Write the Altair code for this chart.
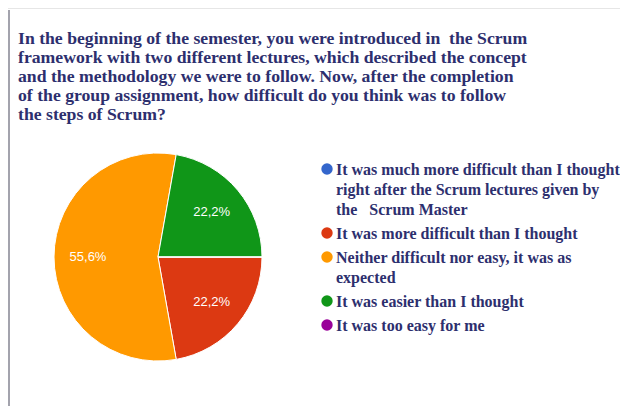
import math
import altair as alt
import pandas as pd

title_lines = [
    "In the beginning of the semester, you were introduced in\u00a0 the Scrum",
    "framework with two different lectures, which described the concept",
    "and the methodology we were to follow. Now, after the completion",
    "of the group assignment, how difficult do you think was to follow",
    "the steps of Scrum?",
]

categories = [
    "It was much more difficult than I thought|right after the Scrum lectures given by|the \u00a0\u00a0Scrum Master",
    "It was more difficult than I thought",
    "Neither difficult nor easy, it was as|expected",
    "It was easier than I thought",
    "It was too easy for me",
]
percents = [0.0, 22.2, 55.6, 22.2, 0.0]
colors = ["#3366cc", "#dc3912", "#ff9900", "#109618", "#990099"]

df = pd.DataFrame({"answer": categories, "pct": percents, "idx": list(range(len(categories)))})

NAVY = "#2d2f6e"

base = alt.Chart(df).encode(
    theta=alt.Theta("pct:Q", stack=True,
                    scale=alt.Scale(range=[math.pi / 2, math.pi / 2 + 2 * math.pi])),
    order=alt.Order("idx:Q", sort="ascending"),
)

pie = base.mark_arc(radius=104, stroke="white", strokeWidth=1).encode(
    color=alt.Color(
        "answer:N",
        sort=categories,
        scale=alt.Scale(domain=categories, range=colors),
        legend=alt.Legend(
            title=None,
            orient="none",
            legendX=265,
            legendY=8,
            labelExpr="split(datum.label, '|')",
            labelFont="Liberation Serif",
            labelFontWeight="bold",
            labelFontSize=16,
            labelColor=NAVY,
            labelLimit=400,
            labelBaseline="top",
            labelOffset=1,
            symbolType="circle",
            symbolSize=130,
            symbolStrokeWidth=0,
            rowPadding=7,
        ),
    )
)

labels = base.transform_filter("datum.pct > 0").transform_calculate(
    lab="replace(format(datum.pct, '.1f'), '.', ',') + '%'"
).mark_text(radius=70, color="white", font="Liberation Sans", fontSize=13).encode(
    text="lab:N"
)

frame_left = alt.Chart(df).mark_rule(color="#a3a3ad", strokeWidth=2).encode(
    x=alt.value(-45), y=alt.value(-143), y2=alt.value(260)
)
frame_top = alt.Chart(df).mark_rule(color="#e6e6e6", strokeWidth=1).encode(
    x=alt.value(-46), x2=alt.value(566), y=alt.value(-144.5)
)

chart = alt.layer(frame_left, frame_top, pie, labels).properties(
    width=208,
    height=208,
    autosize=alt.AutoSizeParams(type="none"),
    padding={"left": 46, "top": 145, "right": 358, "bottom": 45},
    title=alt.TitleParams(
        text=title_lines,
        anchor="start",
        frame="group",
        dx=-36,
        offset=-116,
        font="Liberation Serif",
        fontWeight="bold",
        fontSize=17.7,
        lineHeight=19,
        color=NAVY,
    ),
).configure(
    view=alt.ViewConfig(strokeWidth=0),
    style={"guide-label": {"lineHeight": 20, "dy": -7}},
)

chart.save("out.html", embed_options={"renderer": "svg", "actions": False})
